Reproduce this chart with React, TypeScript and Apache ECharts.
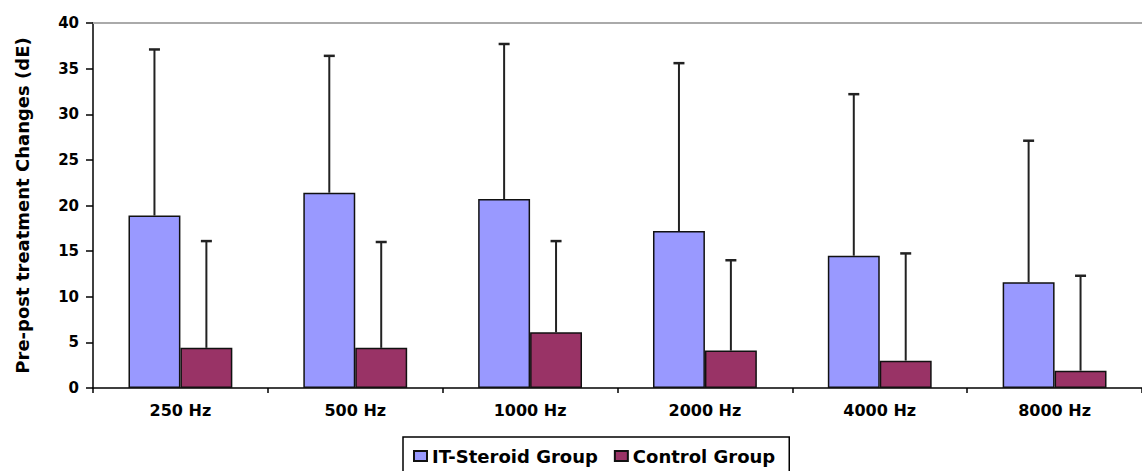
import React, { useEffect, useRef } from "react";
import * as echarts from "echarts";

const categories = ["250 Hz", "500 Hz", "1000 Hz", "2000 Hz", "4000 Hz", "8000 Hz"];
const steroidMean = [18.9, 21.4, 20.7, 17.2, 14.5, 11.6];
const steroidUpper = [37.1, 36.4, 37.7, 35.6, 32.2, 27.1];
const controlMean = [4.4, 4.4, 6.1, 4.1, 3.0, 1.9];
const controlUpper = [16.1, 16.0, 16.1, 14.0, 14.75, 12.3];
const yTicks = { min: 0, max: 40, interval: 5 };

const FONT = "DejaVu Sans";
const BAR_FRAC = 0.297;

function errorSeries(name: string, means: number[], uppers: number[], sign: number) {
  return {
    type: "custom",
    name,
    z: 5,
    data: means.map((m, i) => [i, m, uppers[i]]),
    encode: { x: 0, y: 1 },
    renderItem: (params: any, api: any) => {
      const idx = api.value(0);
      const mean = api.value(1);
      const top = api.value(2);
      const base = api.coord([idx, mean]);
      const t = api.coord([idx, top]);
      const catW = api.size([1, 0])[0];
      const x = base[0] + (sign * catW * BAR_FRAC) / 2;
      return {
        type: "group",
        children: [
          { type: "line", shape: { x1: x, y1: base[1], x2: x, y2: t[1] }, style: { stroke: "#222", lineWidth: 2 } },
          { type: "line", shape: { x1: x - 5.5, y1: t[1], x2: x + 5.5, y2: t[1] }, style: { stroke: "#222", lineWidth: 2.5 } },
        ],
      };
    },
  };
}

export default function App() {
  const ref = useRef<HTMLDivElement>(null);
  useEffect(() => {
    const chart = echarts.init(ref.current!, null, { renderer: "svg" });
    chart.setOption({
      animation: false,
      backgroundColor: "#fff",
      grid: { left: 93, right: -15, top: 23, bottom: 83 },
      legend: {
        data: ["IT-Steroid Group", "Control Group"],
        left: 403,
        top: 437,
        padding: [10, 14, 30, 10],
        borderColor: "#000",
        borderWidth: 1.5,
        itemGap: 16,
        itemWidth: 13,
        itemHeight: 10,
        icon: "rect",
        textStyle: { fontFamily: FONT, fontWeight: "bold", fontSize: 18, color: "#000" },
      },
      xAxis: [
        {
          type: "category",
          data: categories,
          axisLine: { lineStyle: { color: "#000", width: 1.5 } },
          axisTick: { show: true, length: 5, lineStyle: { color: "#000", width: 1.5 } },
          axisLabel: { color: "#000", fontFamily: FONT, fontWeight: "bold", fontSize: 16, margin: 14 },
        },
        {
          type: "category",
          data: categories,
          position: "top",
          axisLine: { show: true, lineStyle: { color: "#aaa", width: 2 } },
          axisTick: { show: false },
          axisLabel: { show: false },
        },
      ],
      yAxis: {
        type: "value",
        min: yTicks.min,
        max: yTicks.max,
        interval: yTicks.interval,
        name: "Pre-post treatment Changes (dE)",
        nameLocation: "middle",
        nameGap: 62,
        nameTextStyle: { color: "#000", fontFamily: FONT, fontWeight: "bold", fontSize: 18 },
        axisLine: { show: true, lineStyle: { color: "#000", width: 1.5 } },
        axisTick: { show: true, length: 7, lineStyle: { color: "#000", width: 1.5 } },
        axisLabel: { color: "#000", fontFamily: FONT, fontWeight: "bold", fontSize: 15, margin: 14 },
        splitLine: { show: false },
      },
      series: [
        {
          type: "bar",
          name: "IT-Steroid Group",
          data: steroidMean,
          barWidth: (BAR_FRAC * 100).toFixed(1) + "%",
          barGap: "0%",
          itemStyle: { color: "#9999FF", borderColor: "#111", borderWidth: 1.5 },
        },
        {
          type: "bar",
          name: "Control Group",
          data: controlMean,
          barWidth: (BAR_FRAC * 100).toFixed(1) + "%",
          barGap: "0%",
          itemStyle: { color: "#993366", borderColor: "#111", borderWidth: 1.5 },
        },
        errorSeries("steroidErr", steroidMean, steroidUpper, -1),
        errorSeries("controlErr", controlMean, controlUpper, 1),
      ],
    });
    return () => chart.dispose();
  }, []);
  return <div ref={ref} style={{ position: "fixed", left: 0, top: 0, width: 1142, height: 471 }} />;
}
